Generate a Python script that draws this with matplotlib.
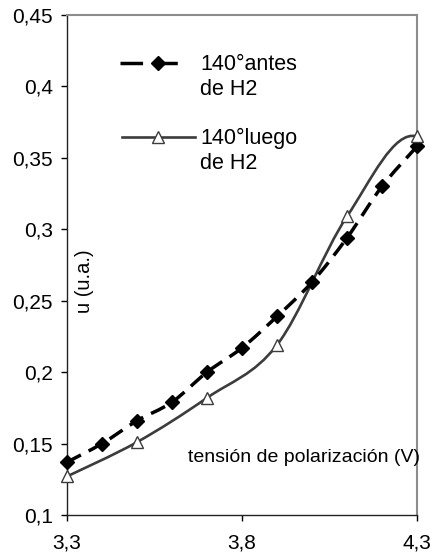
import matplotlib
matplotlib.use('Agg')
import matplotlib.pyplot as plt
from matplotlib.path import Path
from matplotlib.patches import PathPatch
from matplotlib.lines import Line2D
from matplotlib.ticker import FuncFormatter, MultipleLocator, FixedLocator

plt.rcParams['font.family'] = ['Liberation Sans', 'DejaVu Sans']

# tensión de polarización (V) y u (u.a.)
v_antes = [3.3, 3.4, 3.5, 3.6, 3.7, 3.8, 3.9, 4.0, 4.1, 4.2, 4.3, 4.4]
u_antes = [0.137, 0.150, 0.166, 0.179, 0.200, 0.217, 0.239, 0.263, 0.294, 0.330, 0.358, 0.385]
v_luego = [3.3, 3.5, 3.7, 3.9, 4.1, 4.3, 4.5]
u_luego = [0.127, 0.151, 0.182, 0.219, 0.309, 0.365, 0.28]

x_ticks = [3.3, 3.8, 4.3]
label_antes = "140°antes\nde H2"
label_luego = "140°luego\nde H2"


def smooth_path(x, y):
    # curva suavizada tipo Excel (bezier entre puntos)
    verts = [(x[0], y[0])]
    codes = [Path.MOVETO]
    n = len(x)
    for i in range(n - 1):
        x0, y0 = x[max(i - 1, 0)], y[max(i - 1, 0)]
        x3, y3 = x[min(i + 2, n - 1)], y[min(i + 2, n - 1)]
        c1 = (x[i] + (x[i + 1] - x0) / 6, y[i] + (y[i + 1] - y0) / 6)
        c2 = (x[i + 1] - (x3 - x[i]) / 6, y[i + 1] - (y3 - y[i]) / 6)
        verts += [c1, c2, (x[i + 1], y[i + 1])]
        codes += [Path.CURVE4] * 3
    return Path(verts, codes)


fig = plt.figure(figsize=(4.33, 5.55), dpi=100)
ax = fig.add_axes([67 / 433, 40 / 555, 350 / 433, 500 / 555])

dark = '#3c3c3c'
ax.add_patch(PathPatch(smooth_path(v_antes, u_antes), fill=False, edgecolor='black',
                       lw=2.5, linestyle=(0, (4.5, 2.5)), zorder=3))
ax.add_patch(PathPatch(smooth_path(v_luego, u_luego), fill=False, edgecolor=dark,
                       lw=1.9, zorder=2))
ax.plot(v_antes, u_antes, ls='none', marker='D', ms=7.5, color='black', clip_on=False, zorder=4)
ax.plot(v_luego, u_luego, ls='none', marker='^', ms=8.5, mfc='white', mec=dark, mew=1.0,
        clip_on=False, zorder=5)

ax.set_xlim(3.3, 4.3)
ax.set_ylim(0.1, 0.45)
ax.xaxis.set_major_locator(FixedLocator(x_ticks))
ax.yaxis.set_major_locator(MultipleLocator(0.05))
fmt = FuncFormatter(lambda v, p: ('%g' % round(v, 3)).replace('.', ','))
ax.xaxis.set_major_formatter(fmt)
ax.yaxis.set_major_formatter(fmt)
ax.tick_params(axis='both', direction='out', length=4, width=1, labelsize=15, colors='black')
ax.tick_params(axis='y', pad=6)
ax.tick_params(axis='x', pad=9)

for s in ['top', 'right']:
    ax.spines[s].set_color('#8c8c8c')
    ax.spines[s].set_linewidth(1.5)
for s in ['left', 'bottom']:
    ax.spines[s].set_color('#222222')
    ax.spines[s].set_linewidth(1.0)

# etiquetas dentro del área
ax.text(1.009, 0.114, "tensión de polarización (V)", transform=ax.transAxes,
        ha='right', va='center', fontsize=14)
ax.text(0.051, 0.468, "u (u.a.)", transform=ax.transAxes, rotation=90,
        ha='center', va='center', fontsize=14.5)

# leyenda
ax.add_line(Line2D([0.151, 0.346], [0.904, 0.904], transform=ax.transAxes, color='black',
                   lw=2.5, linestyle=(0, (6.5, 3.5))))
ax.add_line(Line2D([0.26], [0.904], transform=ax.transAxes, marker='D', ms=7.5,
                   color='black', ls='none'))
ax.text(0.38, 0.876, label_antes, transform=ax.transAxes, ha='left', va='center',
        fontsize=15.5, linespacing=1.25)
ax.add_line(Line2D([0.157, 0.366], [0.756, 0.756], transform=ax.transAxes, color=dark, lw=1.9))
ax.add_line(Line2D([0.26], [0.756], transform=ax.transAxes, marker='^', ms=8.5, mfc='white',
                   mec=dark, mew=1.0, ls='none'))
ax.text(0.38, 0.729, label_luego, transform=ax.transAxes, ha='left', va='center',
        fontsize=15.5, linespacing=1.25)

fig.savefig('out.png', dpi=100)
